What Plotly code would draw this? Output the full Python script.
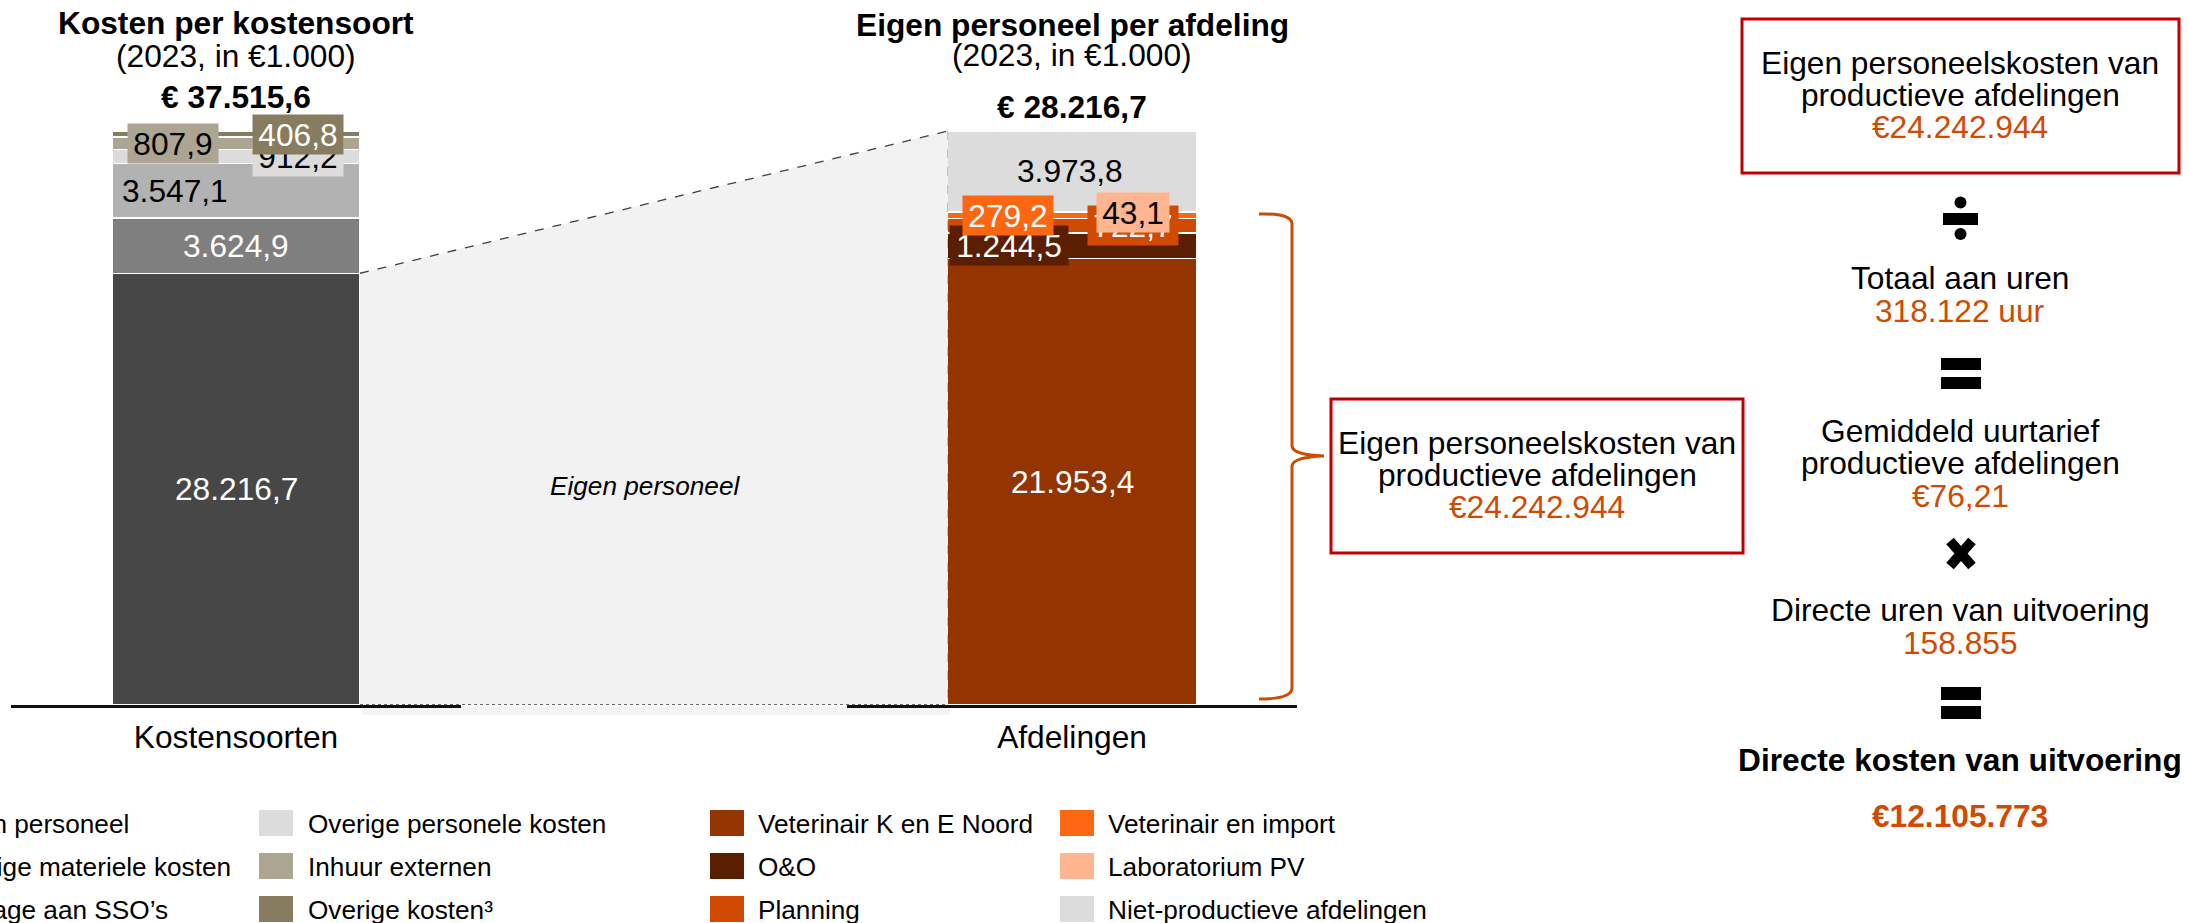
import plotly.graph_objects as go

# ---------------- data ----------------
cost_types = ["Eigen personeel", "Overige materiele kosten", "Bijdrage aan SSO’s",
              "Overige personele kosten", "Inhuur externen", "Overige kosten³"]
cost_values = [28216.7, 3624.9, 3547.1, 912.2, 807.9, 406.8]

departments = ["Veterinair K en E Noord", "O&O", "Planning",
               "Veterinair en import", "Laboratorium PV", "Niet-productieve afdelingen"]
dept_values = [21953.4, 1244.5, 722.7, 279.2, 43.1, 3973.8]

axis_labels = ["Kostensoorten", "Afdelingen"]
chart_titles = ["Kosten per kostensoort", "Eigen personeel per afdeling"]
chart_subtitle = "(2023, in €1.000)"

productive_costs = 24242944
total_hours = 318122
avg_rate = 76.21
direct_hours = 158855
direct_costs = 12105773

# ---------------- styles ----------------
cost_colors = ["#474747", "#7f7f7f", "#b2b2b2", "#dcdcdc", "#aca592", "#877c5f"]
dept_colors = ["#933401", "#5a1f00", "#d04a02", "#fe6712", "#ffb690", "#dcdcdc"]
# label style per segment: (font colour, background or None, x offset in bar units, anchor, box width)
cost_label_style = [("white", None, 0.0, "center", None),
                    ("white", None, 0.0, "center", None),
                    ("black", None, -0.258, "left", None),
                    ("black", "#dcdcdc", 0.138, "center", 90),
                    ("black", "#aca592", -0.14, "center", 90),
                    ("white", "#877c5f", 0.138, "center", 90)]
dept_label_style = [("white", None, 0.0, "center", None),
                    ("white", "#5a1f00", -0.14, "center", 118),
                    ("white", "#d04a02", 0.136, "center", 90),
                    ("white", "#fe6712", -0.142, "center", 90),
                    ("black", "#ffb690", 0.136, "center", 72),
                    ("black", None, -0.004, "center", None)]
label_z = {"left": [0, 1, 2, 3, 5, 4], "right": [0, 5, 1, 3, 2, 4]}

W, H = 2188, 923
FONT = "Liberation Sans, Arial, sans-serif"
FS = 31.7
FS_LEG = 26.2
ORANGE = "#d04a02"
RED = "#c00000"
BASE_Y, TOP_Y = 705, 131


def px(x):
    return x / W


def py(y):
    return 1 - y / H


def nl(v, dec=1):
    s = f"{v:,.{dec}f}"
    return s.replace(",", "#").replace(".", ",").replace("#", ".")


total_left = sum(cost_values)
total_right = sum(dept_values)

fig = go.Figure()

# stacked bars
for name, v, c in zip(cost_types, cost_values, cost_colors):
    fig.add_trace(go.Bar(x=[0], y=[v], name=name, width=0.551, marker_color=c,
                         marker_line=dict(color="white", width=1.5),
                         xaxis="x", yaxis="y", showlegend=False, hoverinfo="name+y"))
for name, v, c in zip(departments, dept_values, dept_colors):
    fig.add_trace(go.Bar(x=[0], y=[v], name=name, width=0.553, marker_color=c,
                         marker_line=dict(color="white", width=1.5),
                         xaxis="x2", yaxis="y2", showlegend=False, hoverinfo="name+y"))

# connecting trapezoid (fraction of height on each side)
frac_left = cost_values[0] / total_left
fig.add_trace(go.Scatter(x=[0, 0, 1, 1, 0], y=[0, frac_left, 1, 0, 0], fill="toself",
                         fillcolor="#f2f2f2", mode="none", xaxis="x3", yaxis="y3",
                         showlegend=False, hoverinfo="skip"))
fig.add_trace(go.Scatter(x=[0, 1], y=[frac_left, 1], mode="lines",
                         line=dict(color="#404040", width=1.3, dash="dash"),
                         xaxis="x3", yaxis="y3", showlegend=False, hoverinfo="skip", cliponaxis=False))
fig.add_trace(go.Scatter(x=[1, 1], y=[1, 0], mode="lines",
                         line=dict(color="#a6a6a6", width=1.3, dash="dash"),
                         xaxis="x3", yaxis="y3", showlegend=False, hoverinfo="skip", cliponaxis=False))
fig.add_trace(go.Scatter(x=[0, 1], y=[0, 0], mode="lines",
                         line=dict(color="#404040", width=1.3, dash="dot"),
                         xaxis="x3", yaxis="y3", showlegend=False, hoverinfo="skip", cliponaxis=False))

annotations = []
shapes = []


def seg_labels(values, styles, order, xref, yref):
    cum = 0
    mids = []
    for v in values:
        mids.append(cum + v / 2)
        cum += v
    for i in order:
        col, bg, dx, anchor, bw = styles[i]
        a = dict(x=dx, y=mids[i], xref=xref, yref=yref, text=nl(values[i]), showarrow=False,
                 xanchor=anchor, yanchor="middle", font=dict(family=FONT, size=FS, color=col))
        if bg:
            a.update(bgcolor=bg, width=bw, height=39, borderpad=0)
        annotations.append(a)


seg_labels(cost_values, cost_label_style, label_z["left"], "x", "y")
seg_labels(dept_values, dept_label_style, label_z["right"], "x2", "y2")

# totals above bars
annotations.append(dict(x=0, y=total_left, xref="x", yref="y", yshift=34, showarrow=False,
                        text="<b>€ " + nl(total_left) + "</b>", xanchor="center", yanchor="middle",
                        font=dict(family=FONT, size=FS, color="black")))
annotations.append(dict(x=0, y=total_right, xref="x2", yref="y2", yshift=24, showarrow=False,
                        text="<b>€ " + nl(total_right) + "</b>", xanchor="center", yanchor="middle",
                        font=dict(family=FONT, size=FS, color="black")))

# titles
for t, cx, ty, sy in [(chart_titles[0], 236, 23, 56), (chart_titles[1], 1072, 25, 55)]:
    annotations.append(dict(x=px(cx), y=py(ty), xref="paper", yref="paper", showarrow=False,
                            text="<b>" + t + "</b>", xanchor="center", yanchor="middle",
                            font=dict(family=FONT, size=FS, color="black")))
    annotations.append(dict(x=px(cx), y=py(sy), xref="paper", yref="paper", showarrow=False,
                            text=chart_subtitle, xanchor="center", yanchor="middle",
                            font=dict(family=FONT, size=FS, color="black")))

# italic label in trapezoid
annotations.append(dict(x=px(645), y=py(486), xref="paper", yref="paper", showarrow=False,
                        text="<i>" + cost_types[0] + "</i>", xanchor="center", yanchor="middle",
                        font=dict(family=FONT, size=FS_LEG, color="black")))

# right panel texts
def rtext(txt, cx, cy, color="black", bold=False):
    annotations.append(dict(x=px(cx), y=py(cy), xref="paper", yref="paper", showarrow=False,
                            text=("<b>" + txt + "</b>") if bold else txt, yanchor="middle",
                            xanchor="center", font=dict(family=FONT, size=FS, color=color)))


CX = 1960
rtext("Eigen personeelskosten van", CX, 63)
rtext("productieve afdelingen", CX, 95)
rtext("€" + nl(productive_costs, 0), CX, 127, ORANGE)
rtext("Totaal aan uren", CX, 278)
rtext(nl(total_hours, 0) + " uur", CX, 311, ORANGE)
rtext("Gemiddeld uurtarief", CX, 431)
rtext("productieve afdelingen", CX, 463)
rtext("€" + nl(avg_rate, 2), CX, 496, ORANGE)
rtext("Directe uren van uitvoering", CX, 610)
rtext(nl(direct_hours, 0), CX, 643, ORANGE)
rtext("Directe kosten van uitvoering", CX, 760, bold=True)
rtext("€" + nl(direct_costs, 0), CX, 816, ORANGE, bold=True)

CX2 = 1537
rtext("Eigen personeelskosten van", CX2, 443)
rtext("productieve afdelingen", CX2, 475)
rtext("€" + nl(productive_costs, 0), CX2, 507, ORANGE)


def rect(x0, y0, x1, y1, fill=None, line=None, lw=0):
    shapes.append(dict(type="rect", xref="paper", yref="paper", x0=px(x0), x1=px(x1),
                       y0=py(y0), y1=py(y1), fillcolor=fill or "rgba(0,0,0,0)",
                       line=dict(color=line or "rgba(0,0,0,0)", width=lw), layer="above"))


rect(1742, 19, 2179, 173, line=RED, lw=3)
rect(1331, 399, 1743, 553, line=RED, lw=3)

# operators
rect(1943, 213, 1978, 225, fill="black")
for cy in (202.5, 234):
    shapes.append(dict(type="circle", xref="paper", yref="paper", x0=px(1954.5), x1=px(1966.5),
                       y0=py(cy - 6), y1=py(cy + 6), fillcolor="black", line=dict(width=0)))
rect(1941, 358, 1981, 370, fill="black")
rect(1941, 377, 1981, 389, fill="black")
for (xa, ya, xb, yb) in [(1950, 541, 1972, 566), (1950, 566, 1972, 541)]:
    shapes.append(dict(type="line", xref="paper", yref="paper", x0=px(xa), y0=py(ya),
                       x1=px(xb), y1=py(yb), line=dict(color="black", width=10)))
rect(1941, 687, 1981, 700, fill="black")
rect(1941, 706, 1981, 719, fill="black")

# brace
pts = "M {a},{b} Q {c},{d} {e},{f} L {g},{h} Q {i},{j} {k},{l} Q {m},{n} {o},{p} L {q},{r} Q {s},{t} {u},{v}"
brace = pts.format(a=px(1259), b=py(214), c=px(1292), d=py(213), e=px(1292), f=py(224),
                   g=px(1292), h=py(446), i=px(1293), j=py(455), k=px(1324), l=py(456),
                   m=px(1293), n=py(457), o=px(1292), p=py(466),
                   q=px(1292), r=py(688), s=px(1292), t=py(699), u=px(1259), v=py(699))
shapes.append(dict(type="path", path=brace, xref="paper", yref="paper",
                   line=dict(color=ORANGE, width=3)))

# soft shadow under connector
rect(362, 707, 950, 715, fill="rgba(0,0,0,0.045)")

# legend (manual, 4 columns x 3 rows)
leg_names = cost_types + departments
leg_colors = cost_colors + dept_colors
col_sw = [-110, 259, 710, 1060]
col_tx = [-62, 306, 756, 1106]
row_y = [823, 866, 909]
for k, (nm, c) in enumerate(zip(leg_names, leg_colors)):
    ci, ri = divmod(k, 3)
    rect(col_sw[ci], row_y[ri] - 13, col_sw[ci] + 34, row_y[ri] + 13, fill=c)
    annotations.append(dict(x=px(col_tx[ci]), y=py(row_y[ri] + 1), xref="paper", yref="paper",
                            showarrow=False, text=nm, xanchor="left", yanchor="middle",
                            font=dict(family=FONT, size=FS_LEG, color="black")))

ydom = [py(BASE_Y), py(TOP_Y)]
axis_common = dict(showgrid=False, zeroline=False, fixedrange=True)
fig.update_layout(
    width=W, height=H, autosize=False,
    margin=dict(l=0, r=0, t=0, b=0, pad=0),
    paper_bgcolor="white", plot_bgcolor="rgba(0,0,0,0)",
    barmode="stack", showlegend=False,
    font=dict(family=FONT, color="black"),
    xaxis=dict(domain=[px(11), px(461)], range=[-0.5, 0.5], tickvals=[0], ticktext=[axis_labels[0]],
               showline=True, linecolor="#111111", linewidth=2.5, ticks="outside", ticklen=2,
               tickcolor="rgba(0,0,0,0)", tickfont=dict(family=FONT, size=FS, color="black"),
               anchor="y", **axis_common),
    yaxis=dict(domain=ydom, range=[0, total_left], visible=False, anchor="x", **axis_common),
    xaxis2=dict(domain=[px(847), px(1297)], range=[-0.5, 0.5], tickvals=[0], ticktext=[axis_labels[1]],
                showline=True, linecolor="#111111", linewidth=2.5, ticks="outside", ticklen=2,
                tickcolor="rgba(0,0,0,0)", tickfont=dict(family=FONT, size=FS, color="black"),
                anchor="y2", **axis_common),
    yaxis2=dict(domain=ydom, range=[0, total_right], visible=False, anchor="x2", **axis_common),
    xaxis3=dict(domain=[px(360), px(948)], range=[0, 1], visible=False, anchor="y3", **axis_common),
    yaxis3=dict(domain=ydom, range=[0, 1], visible=False, anchor="x3", **axis_common),
    annotations=annotations,
    shapes=shapes,
)

fig.write_html("out.html", config={"displayModeBar": False},
               post_script="document.body.style.margin='0px';document.body.style.overflow='hidden';")
